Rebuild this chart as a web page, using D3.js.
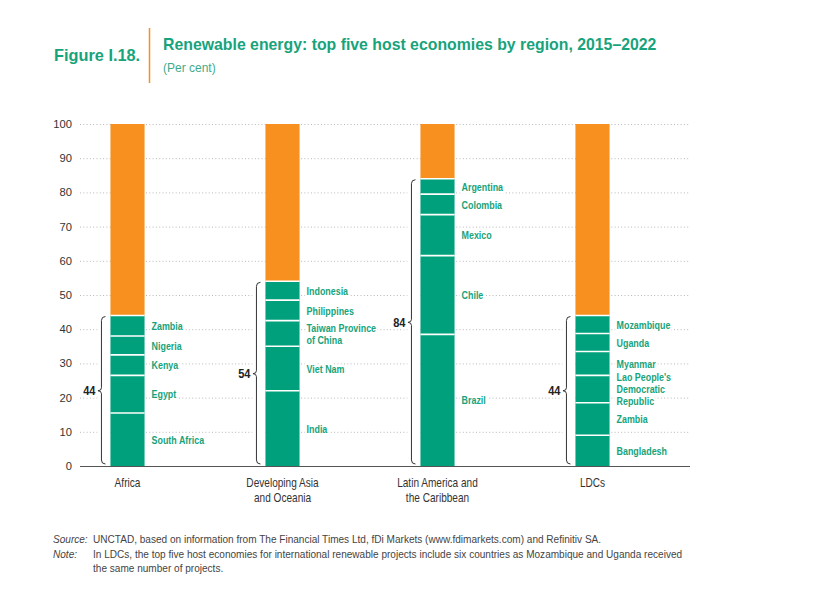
<!DOCTYPE html>
<html>
<head>
<meta charset="utf-8">
<script src="https://cdn.jsdelivr.net/npm/d3@7"></script>
<style>
  body { margin: 0; background: #fff; }
  svg { display: block; }
  text { font-family: "Liberation Sans", Arial, sans-serif; }
</style>
</head>
<body>
<svg id="chart" width="840" height="613"></svg>
<script>
// ---------------- DATA ----------------
const regions = ["Africa", "Developing Asia and Oceania", "Latin America and the Caribbean", "LDCs"];
const regionLabelLines = [["Africa"], ["Developing Asia", "and Oceania"], ["Latin America and", "the Caribbean"], ["LDCs"]];

const africaEconomies = ["South Africa", "Egypt", "Kenya", "Nigeria", "Zambia"];
const africaShares    = [15.5, 11, 6, 5.5, 6];

const asiaEconomies = ["India", "Viet Nam", "Taiwan Province\nof China", "Philippines", "Indonesia"];
const asiaShares    = [22, 13, 7.5, 6, 5.5];

const latamEconomies = ["Brazil", "Chile", "Mexico", "Colombia", "Argentina"];
const latamShares    = [38.5, 23, 12, 6, 4.5];

const ldcEconomies = ["Bangladesh", "Zambia", "Lao People's\nDemocratic\nRepublic", "Myanmar", "Uganda", "Mozambique"];
const ldcShares    = [9, 9.5, 8, 7, 5.25, 5.25];

const topFiveTotals = [44, 54, 84, 44];
const yTicks = [0, 10, 20, 30, 40, 50, 60, 70, 80, 90, 100];

// ---------------- SETUP ----------------
const economiesByRegion = [africaEconomies, asiaEconomies, latamEconomies, ldcEconomies];
const sharesByRegion = [africaShares, asiaShares, latamShares, ldcShares];

const TEAL = "#00a07d";
const TEAL_TEXT = "#17a37b";
const ORANGE = "#f7901e";

const svg = d3.select("#chart");

// condensed text helper: horizontal scaling mimics a narrow typeface
function ntext(parent, x, y, lines, o) {
  const t = parent.append("text")
    .attr("transform", `translate(${x},${y}) scale(${o.sx || 1},1)`)
    .attr("font-size", o.size)
    .attr("font-weight", o.weight || "normal")
    .attr("font-style", o.style || "normal")
    .attr("fill", o.fill || "#333")
    .attr("text-anchor", o.anchor || "start");
  if (o.halo) {
    t.attr("stroke", "#fff").attr("stroke-width", o.halo)
     .attr("paint-order", "stroke").attr("stroke-linejoin", "round");
  }
  const arr = Array.isArray(lines) ? lines : [lines];
  const lh = o.lh || o.size * 1.2;
  const off = o.center ? -(arr.length - 1) / 2 * lh : 0;
  arr.forEach((ln, k) => {
    t.append("tspan").attr("x", 0).attr("y", off + k * lh)
      .attr("dy", o.dy || 0).text(ln);
  });
  return t;
}

const x = d3.scaleBand().domain(regions).range([50, 670]).paddingInner(0.78).paddingOuter(0.39);
const y = d3.scaleLinear().domain([0, 100]).range([466, 124]);

// Title block
ntext(svg, 54, 61, "Figure I.18.", { size: 17, weight: "bold", fill: TEAL_TEXT, sx: 0.96 });
svg.append("line").attr("x1", 149.5).attr("x2", 149.5).attr("y1", 28).attr("y2", 83)
  .attr("stroke", ORANGE).attr("stroke-width", 1.5);
ntext(svg, 163, 50, "Renewable energy: top five host economies by region, 2015\u20132022",
  { size: 16, weight: "bold", fill: TEAL_TEXT, sx: 0.99 });
ntext(svg, 163, 72, "(Per cent)", { size: 12, fill: "#3fab8d" });

// Gridlines
svg.append("g").selectAll("line").data(yTicks.filter(d => d > 0)).join("line")
  .attr("x1", 80).attr("x2", 690)
  .attr("y1", d => y(d) + 0.5).attr("y2", d => y(d) + 0.5)
  .attr("stroke", "#b8b8b8").attr("stroke-width", 1)
  .attr("stroke-dasharray", "1,2.3");

// Y axis labels
const yAxis = d3.axisLeft(y).tickValues(yTicks).tickSize(0).tickPadding(0);
const ya = svg.append("g").attr("transform", "translate(72,0)").call(yAxis);
ya.select(".domain").remove();
ya.selectAll("text").attr("font-family", "Roboto, sans-serif").attr("font-size", 11.2).attr("fill", "#333");

// Stacks
regions.forEach((region, i) => {
  const shares = sharesByRegion[i];
  const names = economiesByRegion[i];
  const total = topFiveTotals[i];
  const segs = [];
  let acc = 0;
  shares.forEach((s, j) => { segs.push({ name: names[j], y0: acc, y1: acc + s }); acc += s; });
  segs.push({ name: null, y0: acc, y1: 100 });

  const bx = x(region), bw = x.bandwidth();
  const rg = svg.append("g");

  // brace
  const x0 = bx - 9;
  const yTop = y(total) + 1, yBot = y(0) - 2, yMid = y(total / 2);
  const r = 4;
  const p = d3.path();
  p.moveTo(x0 + r, yTop);
  p.quadraticCurveTo(x0, yTop, x0, yTop + r);
  p.lineTo(x0, yMid - 3);
  p.quadraticCurveTo(x0, yMid, x0 - 3.5, yMid);
  p.quadraticCurveTo(x0, yMid, x0, yMid + 3);
  p.lineTo(x0, yBot - r);
  p.quadraticCurveTo(x0, yBot, x0 + r, yBot);
  rg.append("rect").attr("x", x0 - 4).attr("width", bx - x0 + 4)
    .attr("y", yTop - 1).attr("height", yBot - yTop + 2).attr("fill", "#fff");
  rg.append("path").attr("d", p.toString()).attr("fill", "none")
    .attr("stroke", "#333").attr("stroke-width", 1);

  ntext(rg, x0 - 6, yMid, String(total),
    { size: 13, weight: "bold", fill: "#222", anchor: "end", sx: 0.85, dy: "0.36em", halo: 5 });

  rg.selectAll("rect.seg").data(segs).join("rect")
    .attr("class", "seg")
    .attr("x", bx).attr("width", bw)
    .attr("y", d => y(d.y1)).attr("height", d => y(d.y0) - y(d.y1))
    .attr("fill", d => d.name ? TEAL : ORANGE);

  // white separators
  rg.selectAll("line.sep").data(segs.slice(1)).join("line")
    .attr("class", "sep")
    .attr("x1", bx).attr("x2", bx + bw)
    .attr("y1", d => y(d.y0)).attr("y2", d => y(d.y0))
    .attr("stroke", "#fff").attr("stroke-width", 1.6);

  // segment labels
  segs.filter(d => d.name).forEach(d => {
    ntext(rg, bx + bw + 7, y((d.y0 + d.y1) / 2), d.name.split("\n"),
      { size: 11.5, weight: "bold", fill: TEAL_TEXT, sx: 0.775, lh: 12,
        center: true, dy: "0.36em", halo: 5 });
  });

  // region labels
  ntext(svg, bx + bw / 2, 487, regionLabelLines[i],
    { size: 12, fill: "#333", anchor: "middle", sx: 0.84, lh: 14.6 });
});

// Baseline
svg.append("line").attr("x1", 80).attr("x2", 690).attr("y1", y(0) + 0.5).attr("y2", y(0) + 0.5)
  .attr("stroke", "#555").attr("stroke-width", 1.2);

// Footnotes
const fo = { size: 11.5, fill: "#444", sx: 0.875 };
ntext(svg, 53, 543, "Source:", Object.assign({}, fo, { style: "italic" }));
ntext(svg, 93, 543, "UNCTAD, based on information from The Financial Times Ltd, fDi Markets (www.fdimarkets.com) and Refinitiv SA.", fo);
ntext(svg, 53, 557.5, "Note:", Object.assign({}, fo, { style: "italic" }));
ntext(svg, 93, 557.5, "In LDCs, the top five host economies for international renewable projects include six countries as Mozambique and Uganda received", fo);
ntext(svg, 93, 572, "the same number of projects.", fo);
</script>
</body>
</html>
